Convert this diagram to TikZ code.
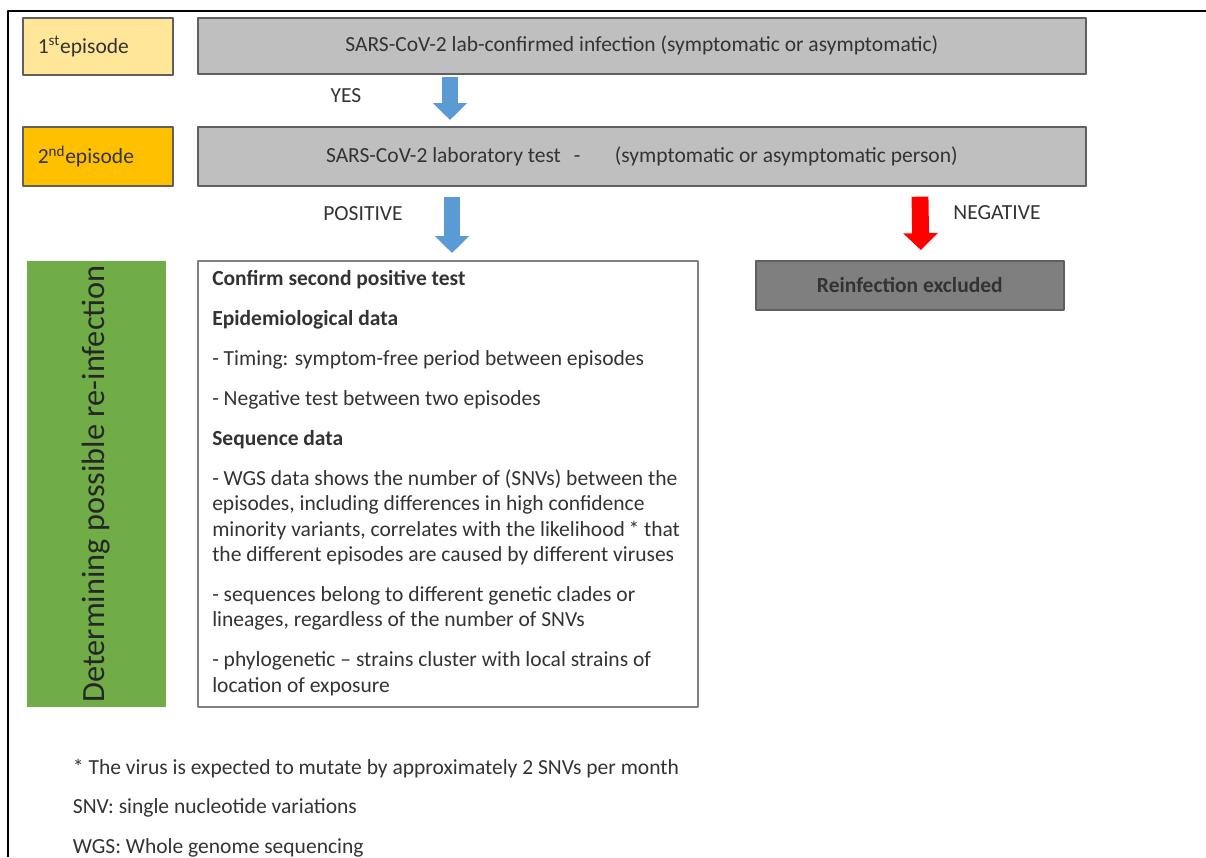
\documentclass[tikz,border=0pt]{standalone}
\usepackage{fontspec}
\setmainfont{Carlito}
\usetikzlibrary{arrows.meta,calc,positioning}
\definecolor{epione}{HTML}{FFE699}
\definecolor{epitwo}{HTML}{FFC000}
\definecolor{boxgray}{HTML}{BFBFBF}
\definecolor{darkgray}{HTML}{7F7F7F}
\definecolor{linegray}{HTML}{5F5F5F}
\definecolor{arrblue}{HTML}{5B9BD5}
\definecolor{detgreen}{HTML}{70AD47}
\begin{document}
\begin{tikzpicture}[x=0.025cm, y=-0.025cm, font=\fontsize{15.3}{18.1}\selectfont, line join=round]
\def\u{0.025cm} \def\g{10.3pt} % 1 px, gap between paragraphs
\tikzset{
  box/.style={draw=linegray, line width=1.2pt, inner sep=0pt, anchor=north west, text=black!80},
  epibox/.style={box, minimum width=150*\u, minimum height=57*\u, text width=120*\u, align=left},
  bluearr/.style={draw=arrblue, line width=11.5pt, -{Triangle[length=12pt,width=23.5pt]}},
  redarr/.style={draw=red, line width=12pt, -{Triangle[length=12pt,width=24pt]}}
}
\useasboundingbox (0,0) rectangle (1206,857);
\draw[line width=1.6pt] (8,857) -- (8,11) -- (1206,11);
% boxes
\node[epibox, fill=epione] (epi1) at (22,17) {1\textsuperscript{st}episode};
\node[box, fill=boxgray, minimum width=888*\u, minimum height=56*\u] (inf) at (197,17)
  {SARS-CoV-2 lab-confirmed infection (symptomatic or asymptomatic)};
\node[epibox, fill=epitwo, minimum height=59*\u] (epi2) at (22,126) {2\textsuperscript{nd}episode};
\node[box, fill=boxgray, minimum width=888*\u, minimum height=59*\u] (test) at (197,126)
  {SARS-CoV-2 laboratory test\hspace{0.6em}-\hspace{1.6em}(symptomatic or asymptomatic person)};
\node[box, draw=none, fill=detgreen, minimum width=139*\u, minimum height=446*\u] (det) at (26,260) {};
\node[rotate=90, font=\fontsize{23}{26}\selectfont, text=black!85] (dettxt) at (det.center) {Determining possible re-infection};
\node[box, draw=gray, fill=white, minimum width=500*\u, minimum height=446*\u] (crit) at (197,260) {};
\node[box, fill=darkgray, minimum width=308*\u, minimum height=49*\u, font=\fontsize{15.3}{18.1}\selectfont\bfseries] (excl) at (755,260)
  {Reinfection excluded};
% criteria
\node[anchor=north west, align=left, inner sep=0pt, text=black!80] (crittxt) at (212,270)
  {\textbf{Confirm second positive test}\\[\g]
   \textbf{Epidemiological data}\\[\g]
   - Timing: symptom-free period between episodes\\[\g]
   - Negative test between two episodes\\[\g]
   \textbf{Sequence data}\\[\g]
   - WGS data shows the number of (SNVs) between the\\
   episodes, including differences in high confidence\\
   minority variants, correlates with the likelihood\,* that\\
   the different episodes are caused by different viruses\\[\g]
   - sequences belong to different genetic clades or\\
   lineages, regardless of the number of SNVs\\[\g]
   - phylogenetic -- strains cluster with local strains of\\
   location of exposure};
% arrows
\node[text=black!80] (yes) at (346,96) {YES};
\node[text=black!80] (pos) at (363,214) {POSITIVE};
\node[text=black!80] (neg) at (997,213) {NEGATIVE};
\draw[bluearr] ($(inf.south west)+(253,2)$) -- ($(test.north west)+(253,-6)$);
\draw[bluearr] ($(test.south west)+(255,10)$) -- ($(crit.north west)+(255,-7)$);
\draw[redarr] ($(test.south west)+(723,10)$) -- ($(excl.north)+(11,-10)$);
% notes
\node[anchor=west, text=black!80] (note1) at (68,769) {* The virus is expected to mutate by approximately 2 SNVs per month};
\node[anchor=west, text=black!80] (note2) at (68,808) {SNV: single nucleotide variations};
\node[anchor=west, text=black!80] (note3) at (68,848) {WGS: Whole genome sequencing};
\end{tikzpicture}
\end{document}
